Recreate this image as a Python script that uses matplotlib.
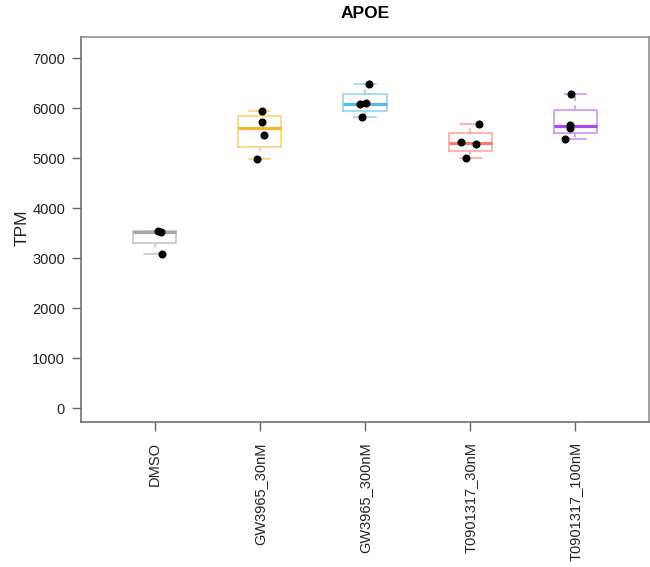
import matplotlib
matplotlib.use("Agg")
import matplotlib.pyplot as plt
import numpy as np

plt.rcParams['font.family'] = ['Liberation Sans', 'DejaVu Sans']

# Expression of APOE per treatment (TPM), one value per replicate
groups = ["DMSO", "GW3965_30nM", "GW3965_300nM", "T0901317_30nM", "T0901317_100nM"]
dmso = [3550, 3530, 3080]
gw3965_30 = [5940, 5727, 5460, 4973]
gw3965_300 = [6480, 6080, 6095, 5813]
t0901317_30 = [5680, 5313, 5273, 5007]
t0901317_100 = [6273, 5660, 5607, 5380]
values = [dmso, gw3965_30, gw3965_300, t0901317_30, t0901317_100]

# horizontal jitter of the replicate dots
jitter = [
    [0.03, 0.06, 0.07],
    [0.02, 0.02, 0.04, -0.03],
    [0.04, -0.05, 0.01, -0.03],
    [0.08, -0.09, 0.06, -0.04],
    [-0.04, -0.05, -0.05, -0.10],
]

box_colors = ["#C4C4C4", "#FFCB6B", "#8ED0F6", "#F9A296", "#C68DF2"]
median_colors = ["#A6A6A6", "#F7B535", "#5AB6EC", "#F37D6D", "#A44BEA"]
yticks = [0, 1000, 2000, 3000, 4000, 5000, 6000, 7000]


def hinges(v):
    # Tukey five-number summary
    s = np.sort(np.asarray(v, float))
    n = len(s)
    n4 = np.floor((n + 3) / 2) / 2
    d = np.array([1, n4, (n + 1) / 2, n + 1 - n4, n])
    return 0.5 * (s[np.floor(d).astype(int) - 1] + s[np.ceil(d).astype(int) - 1])


fig = plt.figure(figsize=(6.5, 5.67), dpi=100)
ax = fig.add_axes([81 / 650, 1 - 422 / 567, 568 / 650, 385 / 567])

half = 0.205
cap = 0.10
for i, (v, bc, mc) in enumerate(zip(values, box_colors, median_colors)):
    x = i + 1
    lo, q1, med, q3, hi = hinges(v)
    iqr = q3 - q1
    wlo = min(a for a in v if a >= q1 - 1.5 * iqr)
    whi = max(a for a in v if a <= q3 + 1.5 * iqr)
    ax.plot([x - half, x + half, x + half, x - half, x - half],
            [q1, q1, q3, q3, q1], color=bc, lw=1.1, zorder=2)
    ax.plot([x - half, x + half], [med, med], color=mc, lw=2.3,
            solid_capstyle='butt', zorder=3)
    ax.plot([x, x], [q3, whi], color=bc, lw=1.1, ls=(0, (3, 3)), zorder=2)
    ax.plot([x, x], [q1, wlo], color=bc, lw=1.1, ls=(0, (3, 3)), zorder=2)
    ax.plot([x - cap, x + cap], [whi, whi], color=bc, lw=1.1, zorder=2)
    ax.plot([x - cap, x + cap], [wlo, wlo], color=bc, lw=1.1, zorder=2)
    ax.plot(x + np.asarray(jitter[i]), v, 'o', color='black', ms=5.8,
            mec='black', mew=0, zorder=4)

ax.set_xlim(0.3, 5.7)
ax.set_ylim(-280, 7420)
ax.set_yticks(yticks)
ax.set_yticklabels([str(t) for t in yticks], fontsize=10.5, color='#222222')
ax.set_xticks(range(1, len(groups) + 1))
ax.set_xticklabels(groups, rotation=90, fontsize=10.5, color='#222222', va='top')
ax.tick_params(axis='both', direction='out', length=6.5, width=1.0, color='#666666')
ax.tick_params(axis='y', pad=5)
ax.tick_params(axis='x', pad=8)
for sp in ax.spines.values():
    sp.set_color('#666666')
    sp.set_linewidth(1.1)
for sp in ('top', 'right'):
    ax.spines[sp].set_color('#888888')

ax.set_ylabel("TPM", fontsize=12.5, color='#222222', va='center')
ax.yaxis.set_label_coords(-0.104, 0.504)
fig.text(365 / 650, 1 - 14 / 567, "APOE", ha='center', va='center',
         fontsize=12.5, fontweight='bold')

fig.savefig("out.png", dpi=100)
